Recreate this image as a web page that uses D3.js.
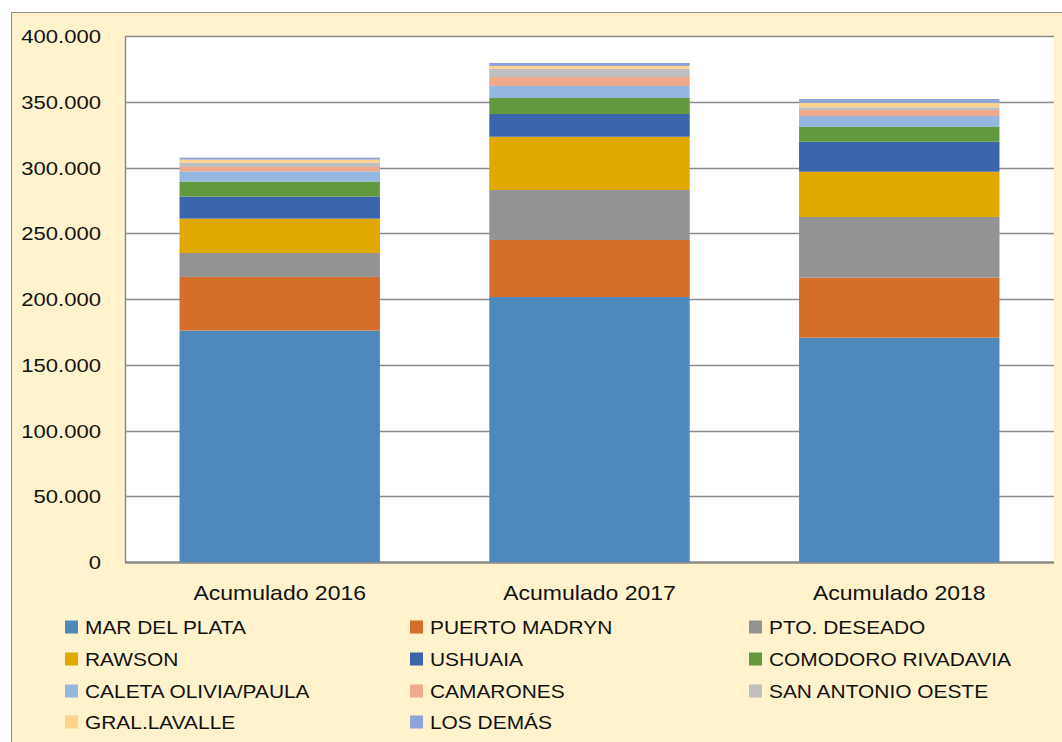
<!DOCTYPE html>
<html>
<head>
    <meta charset="utf-8">
    <title>Acumulado por puerto</title>
    <script src="https://d3js.org/d3.v7.min.js"></script>
    <style>
        body {
            margin: 0;
            padding: 0;
            background: #ffffff;
            overflow: hidden;
        }
        svg text {
            font-family: "Liberation Sans", Arial, sans-serif;
            fill: #111;
        }
    </style>
</head>
<body>
    <div id="chart"></div>
    <script>
        // Data
        const years = ['Acumulado 2016', 'Acumulado 2017', 'Acumulado 2018'];
        const ports = ['MAR DEL PLATA', 'PUERTO MADRYN', 'PTO. DESEADO', 'RAWSON', 'USHUAIA',
            'COMODORO RIVADAVIA', 'CALETA OLIVIA/PAULA', 'CAMARONES', 'SAN ANTONIO OESTE',
            'GRAL.LAVALLE', 'LOS DEMÁS'];
        const values2016 = [176000, 40800, 18200, 26100, 16800, 11400, 7800, 3300, 3300, 2300, 1500];
        const values2017 = [201500, 43400, 38000, 40500, 17300, 12200, 9100, 6800, 6300, 2100, 2300];
        const values2018 = [170600, 45600, 46200, 34400, 22800, 11200, 8400, 4500, 2100, 3200, 3100];
        const colors = ['#4f88bb', '#d36f2a', '#939393', '#e0a900', '#3a64ac', '#62993e',
            '#94b7df', '#f0a88a', '#bfbfbf', '#ffd18a', '#8fa4d6'];
        const yTicks = [0, 50000, 100000, 150000, 200000, 250000, 300000, 350000, 400000];

        const width = 1062;
        const height = 742;
        const margin = { top: 36, right: 8, bottom: 180, left: 125 };

        const svg = d3.select('#chart')
            .append('svg')
            .attr('width', width)
            .attr('height', height);

        // chart background + border
        svg.append('rect')
            .attr('x', 11.5).attr('y', 12.5)
            .attr('width', width - 11).attr('height', height - 11)
            .attr('fill', '#fff2cc')
            .attr('stroke', '#8c8c8c');

        const rows = years.map((y, i) => {
            const vals = [values2016, values2017, values2018][i];
            const row = { year: y };
            ports.forEach((p, j) => row[p] = vals[j]);
            return row;
        });
        const stack = d3.stack().keys(ports)(rows);

        const x = d3.scaleBand()
            .domain(years)
            .range([margin.left, width - margin.right])
            .paddingInner(0.353)
            .paddingOuter(0.176);

        const y = d3.scaleLinear()
            .domain([0, 400000])
            .range([height - margin.bottom, margin.top]);

        // plot area
        svg.append('rect')
            .attr('x', margin.left).attr('y', margin.top)
            .attr('width', width - margin.right - margin.left)
            .attr('height', height - margin.bottom - margin.top)
            .attr('fill', '#ffffff');

        // gridlines
        svg.append('g')
            .selectAll('line')
            .data(yTicks)
            .join('line')
            .attr('x1', margin.left).attr('x2', width - margin.right)
            .attr('y1', d => Math.round(y(d)) + 0.5)
            .attr('y2', d => Math.round(y(d)) + 0.5)
            .attr('stroke', '#8a8a8a')
            .attr('stroke-width', d => d === 0 ? 2.5 : 1.5);

        // left axis line
        svg.append('line')
            .attr('x1', margin.left + 0.5).attr('x2', margin.left + 0.5)
            .attr('y1', margin.top).attr('y2', y(0))
            .attr('stroke', '#8a8a8a')
            .attr('stroke-width', 1.5);

        // bars
        svg.append('g')
            .selectAll('g')
            .data(stack)
            .join('g')
            .attr('fill', (d, i) => colors[i])
            .selectAll('rect')
            .data(d => d)
            .join('rect')
            .attr('x', d => x(d.data.year))
            .attr('width', x.bandwidth())
            .attr('y', d => y(d[1]))
            .attr('height', d => y(d[0]) - y(d[1]));

        // y tick labels (text in the original is a bit wider, so stretch it)
        const fmt = v => v === 0 ? '0' : d3.format(',')(v).replace(/,/g, '.');
        svg.append('g')
            .selectAll('text')
            .data(yTicks)
            .join('text')
            .attr('transform', d => `translate(101,${y(d) + 7}) scale(1.16,1)`)
            .attr('text-anchor', 'end')
            .style('font-size', '19px')
            .text(fmt);

        // category labels
        svg.append('g')
            .selectAll('text')
            .data(years)
            .join('text')
            .attr('transform', d => `translate(${x(d) + x.bandwidth() / 2},600) scale(1.15,1)`)
            .attr('text-anchor', 'middle')
            .style('font-size', '20px')
            .text(d => d);

        // legend
        const legendCols = [65, 410, 749];
        const legendRows = [627, 659, 691, 722];
        const legend = svg.append('g')
            .selectAll('g')
            .data(ports)
            .join('g')
            .attr('transform', (d, i) => `translate(${legendCols[i % 3]},${legendRows[Math.floor(i / 3)]})`);
        legend.append('rect')
            .attr('x', 0).attr('y', -6.5)
            .attr('width', 13).attr('height', 13)
            .attr('fill', (d, i) => colors[i]);
        legend.append('text')
            .attr('transform', 'translate(20,7) scale(1.1,1)')
            .style('font-size', '19px')
            .text(d => d);
    </script>
</body>
</html>
